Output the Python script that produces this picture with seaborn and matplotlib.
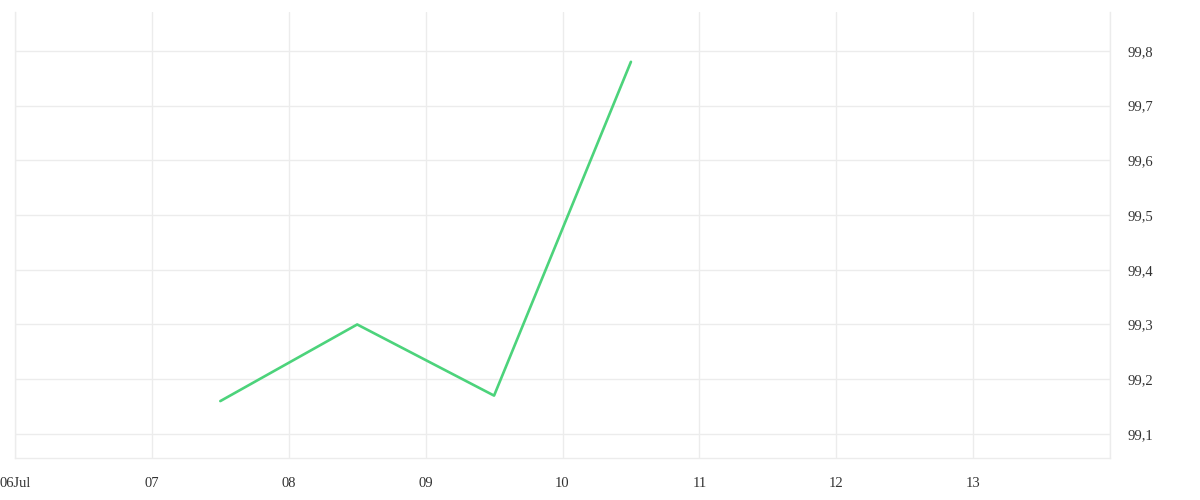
import matplotlib
matplotlib.use("Agg")
import matplotlib.pyplot as plt
import matplotlib.dates as mdates
from matplotlib.ticker import FuncFormatter, MultipleLocator
import pandas as pd
import seaborn as sns

# ─── Data ─────────────────────────────────────────────────────────────────────
dates  = ["2023-07-07 12:00", "2023-07-08 12:00", "2023-07-09 12:00", "2023-07-10 12:00"]
values = [99.16, 99.30, 99.17, 99.78]

X_START = "2023-07-06"
X_END   = "2023-07-14"
Y_MIN, Y_MAX = 99.056, 99.871

LINE_COLOR = "#4cd37b"
GRID_COLOR = "#ececec"
TEXT_COLOR = "#333333"

df = pd.DataFrame({"date": pd.to_datetime(dates), "value": values})

# ─── Style ────────────────────────────────────────────────────────────────────
sns.set_style("white")
plt.rcParams["font.family"] = ["Liberation Serif", "DejaVu Serif"]

fig = plt.figure(figsize=(12, 5), dpi=100)
ax = fig.add_axes([15 / 1200, 42 / 500, 1095 / 1200, 446 / 500])

sns.lineplot(data=df, x="date", y="value", ax=ax, color=LINE_COLOR, linewidth=1.9)

ax.set_xlim(pd.Timestamp(X_START), pd.Timestamp(X_END))
ax.set_ylim(Y_MIN, Y_MAX)

# x axis: one tick per day, first one with month name
ax.xaxis.set_major_locator(mdates.DayLocator())
def fmt_date(x, pos):
    d = mdates.num2date(x)
    if d.day == 14:
        return ""
    return d.strftime("%d%b") if d.day == 6 else d.strftime("%d")
ax.xaxis.set_major_formatter(FuncFormatter(fmt_date))

# y axis on the right, comma decimals
ax.yaxis.tick_right()
ax.yaxis.set_major_locator(MultipleLocator(0.1))
ax.yaxis.set_major_formatter(FuncFormatter(lambda v, p: f"{v:.1f}".replace(".", ",")))

ax.grid(True, color=GRID_COLOR, linewidth=1)
ax.tick_params(axis="x", length=7.5, width=1, color=GRID_COLOR, pad=6.5,
               labelsize=10.5, labelcolor=TEXT_COLOR)
ax.tick_params(axis="y", length=0, pad=12.5, labelsize=10.5, labelcolor=TEXT_COLOR)
for lbl in ax.get_yticklabels():
    lbl.set_horizontalalignment("left")

for side in ("left", "bottom", "right"):
    ax.spines[side].set_color(GRID_COLOR)
    ax.spines[side].set_linewidth(1)
ax.spines["top"].set_visible(False)

ax.set_xlabel("")
ax.set_ylabel("")

fig.savefig("out.png", dpi=100)
